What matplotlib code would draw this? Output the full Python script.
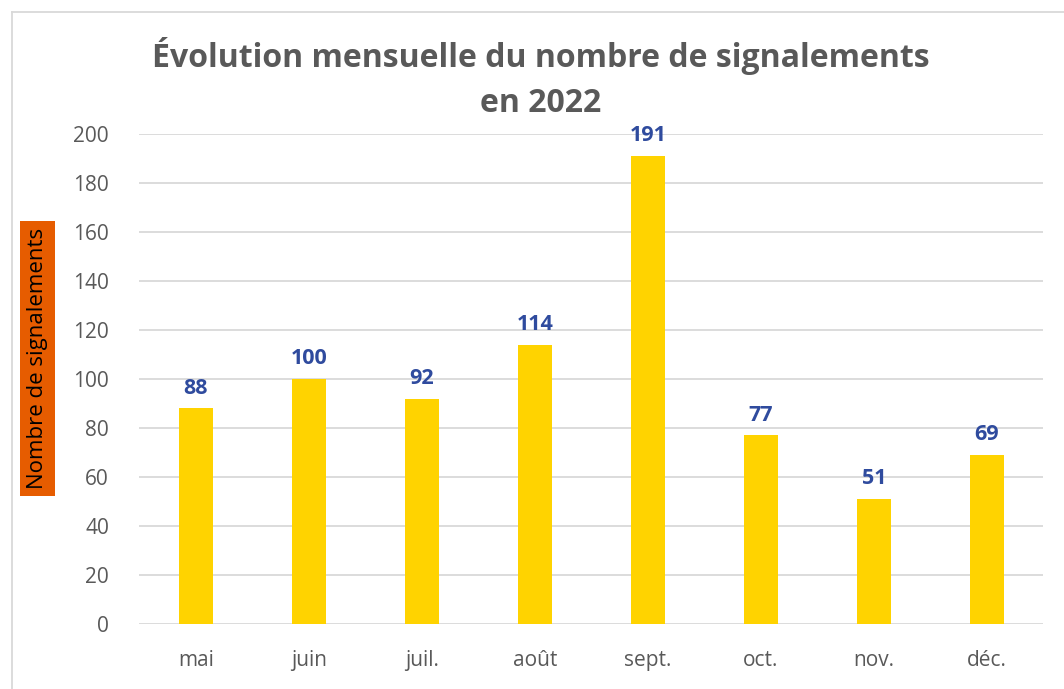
import matplotlib
matplotlib.use('Agg')
import matplotlib.pyplot as plt
from matplotlib.lines import Line2D

months = ['mai', 'juin', 'juil.', 'août', 'sept.', 'oct.', 'nov.', 'déc.']
counts = [88, 100, 92, 114, 191, 77, 51, 69]
yticks = [0, 20, 40, 60, 80, 100, 120, 140, 160, 180, 200]

plt.rcParams['font.family'] = ['Open Sans', 'DejaVu Sans']

fig = plt.figure(figsize=(10.64, 6.89), dpi=100)
ax = fig.add_axes([0.1311, 0.0943, 0.8496, 0.7112])

x = range(len(months))
ax.bar(x, counts, width=0.3, color='#FFD300', zorder=3)
for xi, v in zip(x, counts):
    ax.text(xi, v + 4, str(v), ha='center', va='bottom', fontsize=15.5,
            fontweight='bold', color='#2F4B9E', zorder=4)

ax.set_xlim(-0.5, len(months) - 0.5)
ax.set_ylim(0, 200)
ax.set_yticks(yticks)
ax.set_xticks(list(x))
ax.set_xticklabels(months)
ax.tick_params(axis='both', length=0, labelsize=15, labelcolor='#595959')
ax.tick_params(axis='x', pad=19)
ax.tick_params(axis='y', pad=22)
ax.grid(axis='y', color='#D9D9D9', linewidth=1.3, zorder=0)
for s in ax.spines.values():
    s.set_visible(False)

# title
fig.text(0.508, 0.918, 'Évolution mensuelle du nombre de signalements',
         ha='center', va='center', fontsize=23, fontweight='bold', color='#595959')
fig.text(0.508, 0.850, 'en 2022', ha='center', va='center', fontsize=23,
         fontweight='bold', color='#595959')

# y label with orange box
fig.text(0.0353, 0.480, 'Nombre de signalements', rotation=90, ha='center',
         va='center', fontsize=16, color='black',
         bbox=dict(boxstyle='square,pad=0.3', facecolor='#E65C00', edgecolor='none'))

# chart frame
fig.add_artist(Line2D([12 / 1064, 12 / 1064], [0, 1 - 12 / 689], color='#D9D9D9',
                      linewidth=1.3, transform=fig.transFigure))
fig.add_artist(Line2D([12 / 1064, 1], [1 - 12 / 689, 1 - 12 / 689], color='#D9D9D9',
                      linewidth=1.3, transform=fig.transFigure))

fig.savefig('out.png', dpi=100)
